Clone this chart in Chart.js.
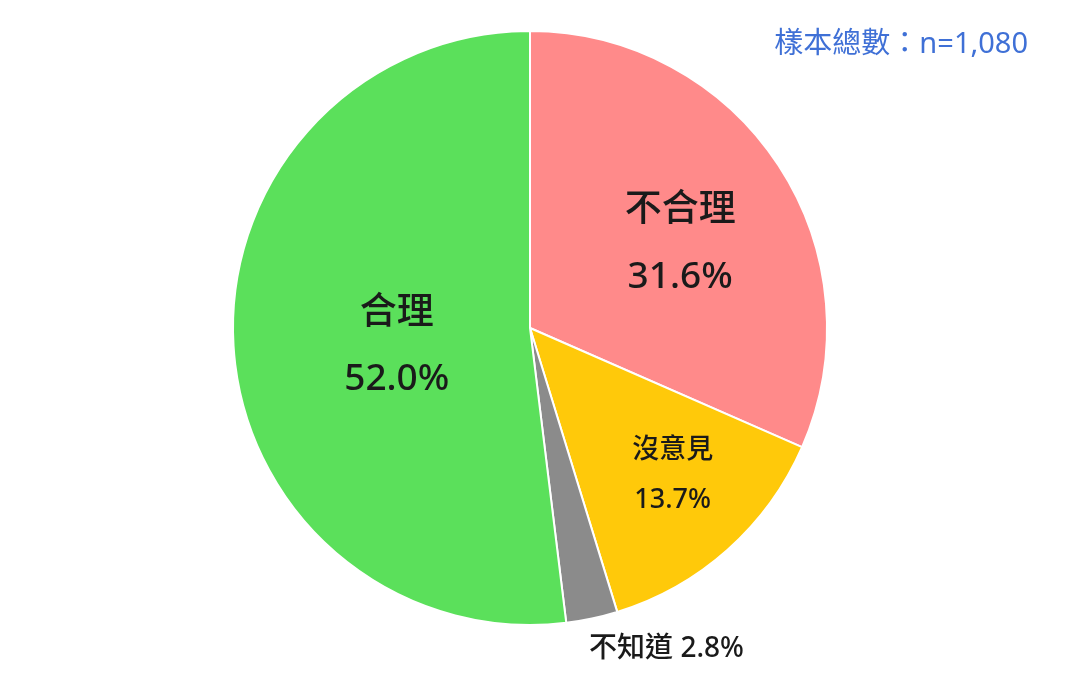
<!DOCTYPE html>
<html>
<head>
<meta charset="utf-8">
<script src="https://cdn.jsdelivr.net/npm/chart.js@4"></script>
<style>
  html, body { margin: 0; padding: 0; background: #fff; }
  #wrap { width: 1080px; height: 676px; position: relative; }
</style>
</head>
<body>
<div id="wrap"><canvas id="pieChart"></canvas></div>
<script>
// ========== DATA ==========
const categories = ['不合理', '沒意見', '不知道', '合理'];
const percents = [31.6, 13.7, 2.8, 52.0];
const sliceColors = ['#ff8a8a', '#ffc90a', '#8b8b8b', '#5be05b'];
const sampleNote = '樣本總數：n=1,080';

// label placement per slice: [radius fraction, angle shift in degrees, font px, line gap, inline]
const labelStyle = [
    [0.579, 4, 37, 67, false],
    [0.69, -2.4, 27, 50, false],
    [1.174, -11, 28, 0, true],
    [0.453, -4.5, 37, 66, false]
];

const FONT = '"Noto Sans", "Noto Sans CJK TC", sans-serif';

// ========== LABEL PLUGIN ==========
const sliceLabels = {
    id: 'sliceLabels',
    afterDatasetsDraw(chart) {
        const ctx = chart.ctx;
        const arcs = chart.getDatasetMeta(0).data;
        ctx.save();
        ctx.fillStyle = '#1a1a1a';
        ctx.textAlign = 'center';
        ctx.textBaseline = 'middle';
        arcs.forEach((arc, i) => {
            const [rf, shift, size, gap, inline] = labelStyle[i];
            const mid = (arc.startAngle + arc.endAngle) / 2 + shift * Math.PI / 180;
            const r = arc.outerRadius * rf;
            const x = arc.x + Math.cos(mid) * r;
            const y = arc.y + Math.sin(mid) * r;
            ctx.font = `500 ${size}px ${FONT}`;
            const pct = percents[i].toFixed(1) + '%';
            if (inline) {
                ctx.fillText(categories[i] + ' ' + pct, x, y);
            } else {
                ctx.fillText(categories[i], x, y - gap / 2);
                ctx.fillText(pct, x, y + gap / 2);
            }
        });
        // sample size note
        ctx.font = `29px ${FONT}`;
        ctx.fillStyle = '#3f70d6';
        ctx.textAlign = 'right';
        ctx.fillText(sampleNote, 1028, 45);
        ctx.restore();
    }
};

// ========== CHART ==========
new Chart(document.getElementById('pieChart').getContext('2d'), {
    type: 'pie',
    data: {
        labels: categories,
        datasets: [{
            data: percents,
            backgroundColor: sliceColors,
            borderColor: '#ffffff',
            borderWidth: 2
        }]
    },
    options: {
        responsive: true,
        maintainAspectRatio: false,
        animation: false,
        layout: { padding: { left: 232, right: 252, top: 30, bottom: 50 } },
        plugins: {
            legend: { display: false },
            tooltip: { enabled: false }
        }
    },
    plugins: [sliceLabels]
});
</script>
</body>
</html>
